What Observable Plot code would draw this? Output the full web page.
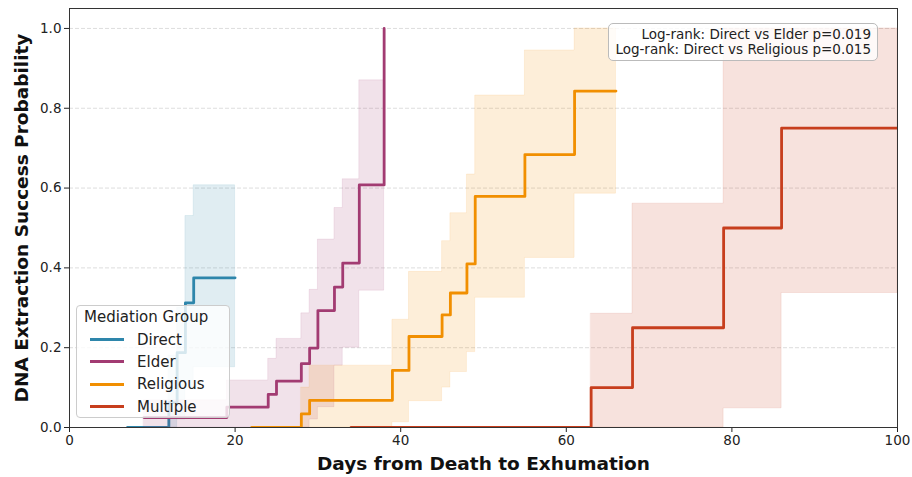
<!DOCTYPE html>
<html>
<head>
<meta charset="utf-8">
<script src="https://cdn.jsdelivr.net/npm/d3@7"></script>
<script src="https://cdn.jsdelivr.net/npm/@observablehq/plot@0.6"></script>
<style>
  body { margin: 0; background: #fff; font-family: "DejaVu Sans", sans-serif; }
  #wrap { position: relative; width: 912px; height: 477px; overflow: hidden; }
  .legend { position: absolute; left: 76px; top: 305px; width: 154px; height: 113px; box-sizing: border-box;
            border: 1px solid #cccccc; border-radius: 4px; background: rgba(255,255,255,0.8); color: #222; font-size: 15px; }
  .legend .title { position: absolute; left: 7px; top: 2px; line-height: 18px; white-space: nowrap; }
  .legend .item { position: absolute; left: 0; height: 18px; width: 150px; }
  .legend .swatch { position: absolute; left: 13px; top: 7.5px; width: 34px; height: 3px; }
  .legend .lab { position: absolute; left: 60px; top: 0; line-height: 18px; white-space: nowrap; }
  .note { position: absolute; left: 608px; top: 23px; width: 270px; height: 38px; box-sizing: border-box;
          border: 1px solid #bbbbbb; border-radius: 5px; background: rgba(255,255,255,0.8);
          font-size: 13.5px; line-height: 15px; text-align: right; padding: 3px 6px 0 0; color: #222; white-space: nowrap; }
</style>
</head>
<body>
<div id="wrap"></div>
<script>
// ---- data ----
const groups = ["Direct", "Elder", "Religious", "Multiple"];
const groupColors = ["#2E86AB", "#A23B72", "#F18F01", "#C73E1D"];

const directTimes = [7, 12, 13, 14, 15, 20];
const directProb  = [0, 0.0625, 0.1875, 0.3125, 0.375, 0.375];
const directCiTimes = [12, 13, 14, 15, 20];
const directLower   = [0, 0.02, 0.1, 0.151, 0.151];
const directUpper   = [0.18, 0.3, 0.53, 0.607, 0.607];

const elderTimes = [9, 19, 24, 25, 28, 29, 30, 32, 33, 35, 38];
const elderProb  = [0.025, 0.051, 0.083, 0.116, 0.16, 0.199, 0.293, 0.352, 0.412, 0.608, 1.0];
const elderCiTimes = [9, 19, 24, 25, 28, 29, 30, 32, 33, 35, 38];
const elderLower   = [0, 0, 0, 0, 0, 0.02, 0.051, 0.155, 0.2, 0.343, 0.343];
const elderUpper   = [0.068, 0.118, 0.172, 0.222, 0.286, 0.345, 0.471, 0.55, 0.622, 0.87, 0.87];

const religiousTimes = [22, 28, 29, 39, 41, 45, 46, 48, 49, 55, 61, 66];
const religiousProb  = [0, 0.034, 0.068, 0.143, 0.228, 0.282, 0.337, 0.41, 0.579, 0.684, 0.843, 0.843];
const religiousCiTimes = [28, 29, 39, 41, 45, 46, 48, 49, 55, 61, 66];
const religiousLower   = [0, 0, 0.013, 0.066, 0.1, 0.139, 0.189, 0.325, 0.425, 0.586, 0.586];
const religiousUpper   = [0.1, 0.155, 0.27, 0.39, 0.467, 0.537, 0.634, 0.832, 0.945, 1.0, 1.0];

const multipleTimes = [34, 63, 68, 79, 86, 100];
const multipleProb  = [0, 0.1, 0.25, 0.5, 0.75, 0.75];
const multipleCiTimes = [63, 68, 79, 86, 100];
const multipleLower   = [0, 0, 0.048, 0.337, 0.337];
const multipleUpper   = [0.285, 0.561, 1.0, 1.0, 1.0];

const xTicks = [0, 20, 40, 60, 80, 100];
const yTicks = [0, 0.2, 0.4, 0.6, 0.8, 1.0];
const xLabel = "Days from Death to Exhumation";
const yLabel = "DNA Extraction Success Probability";
const noteLines = ["Log-rank: Direct vs Elder p=0.019", "Log-rank: Direct vs Religious p=0.015"];
const legendTitle = "Mediation Group";

// ---- build tables ----
const series = [
  [directTimes, directProb, directCiTimes, directLower, directUpper],
  [elderTimes, elderProb, elderCiTimes, elderLower, elderUpper],
  [religiousTimes, religiousProb, religiousCiTimes, religiousLower, religiousUpper],
  [multipleTimes, multipleProb, multipleCiTimes, multipleLower, multipleUpper]
];

const marks = [
  Plot.gridY(yTicks, {stroke: "#b0b0b0", strokeOpacity: 0.55, strokeDasharray: "4,2", strokeWidth: 0.8})
];

groups.forEach((g, i) => {
  const [t, p, ct, lo, hi] = series[i];
  const lineRows = t.map((d, j) => ({t: d, p: p[j]}));
  const bandRows = ct.map((d, j) => ({t: d, lo: lo[j], hi: hi[j]}));
  marks.push(Plot.areaY(bandRows, {x: "t", y1: "lo", y2: "hi", curve: "step-after",
    fill: groupColors[i], fillOpacity: 0.15, stroke: groupColors[i], strokeOpacity: 0.1, strokeWidth: 1, clip: true}));
  marks.push(Plot.line(lineRows, {x: "t", y: "p", curve: "step-after",
    stroke: groupColors[i], strokeWidth: 2.8, clip: true}));
});

marks.push(
  Plot.axisX(xTicks, {tickSize: 5, tickPadding: 3, tickFormat: d => String(d), label: null, fontSize: 13.5}),
  Plot.axisY(yTicks, {tickSize: 5, tickPadding: 3, tickFormat: d => d.toFixed(1), label: null, fontSize: 13.5}),
  Plot.frame({stroke: "#333", strokeWidth: 1}),
  Plot.text([xLabel], {text: d => d, frameAnchor: "bottom", dy: 37, lineAnchor: "middle", textAnchor: "middle",
    fontWeight: "bold", fontSize: 18.5, fill: "#111"}),
  Plot.text([yLabel], {text: d => d, frameAnchor: "left", dx: -47, rotate: -90, lineAnchor: "middle", textAnchor: "middle",
    fontWeight: "bold", fontSize: 18.5, fill: "#111"})
);

const chart = Plot.plot({
  width: 912,
  height: 477,
  marginLeft: 69,
  marginRight: 15,
  marginTop: 8,
  marginBottom: 50,
  x: {domain: [0, 100]},
  y: {domain: [0, 1.05]},
  style: {fontFamily: "DejaVu Sans, sans-serif", fontSize: "13.5px", color: "#222", background: "white", overflow: "visible"},
  marks
});

const wrap = document.getElementById("wrap");
wrap.appendChild(chart);

// legend
const leg = document.createElement("div");
leg.className = "legend";
const title = document.createElement("div");
title.className = "title";
title.textContent = legendTitle;
leg.appendChild(title);
groups.forEach((g, i) => {
  const item = document.createElement("div");
  item.className = "item";
  item.style.top = (24.5 + i * 22.4) + "px";
  const sw = document.createElement("div");
  sw.className = "swatch";
  sw.style.background = groupColors[i];
  const lab = document.createElement("div");
  lab.className = "lab";
  lab.textContent = g;
  item.appendChild(sw);
  item.appendChild(lab);
  leg.appendChild(item);
});
wrap.appendChild(leg);

// annotation
const note = document.createElement("div");
note.className = "note";
noteLines.forEach(s => {
  const d = document.createElement("div");
  d.textContent = s;
  note.appendChild(d);
});
wrap.appendChild(note);
</script>
</body>
</html>
